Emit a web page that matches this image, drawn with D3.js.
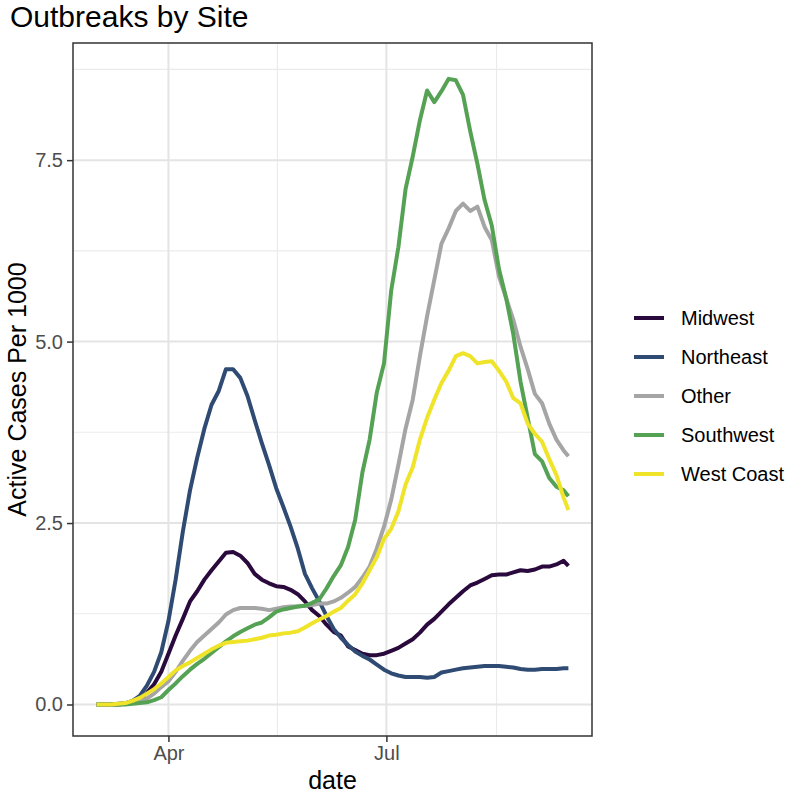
<!DOCTYPE html>
<html>
<head>
<meta charset="utf-8">
<script src="https://cdn.jsdelivr.net/npm/d3@7"></script>
<style>
  html, body { margin: 0; padding: 0; background: #ffffff; }
  svg { display: block; font-family: "Liberation Sans", Arial, Helvetica, sans-serif; }
</style>
</head>
<body>
<svg id="chart" width="788" height="795"></svg>
<script>
// ---- Data ----
const dates = [
  "2020-03-02","2020-03-05","2020-03-08","2020-03-11","2020-03-14","2020-03-17","2020-03-20","2020-03-23","2020-03-26","2020-03-29",
  "2020-04-01","2020-04-04","2020-04-07","2020-04-10","2020-04-13","2020-04-16","2020-04-19","2020-04-22","2020-04-25","2020-04-28",
  "2020-05-01","2020-05-04","2020-05-07","2020-05-10","2020-05-13","2020-05-16","2020-05-19","2020-05-22","2020-05-25","2020-05-28",
  "2020-05-31","2020-06-03","2020-06-06","2020-06-09","2020-06-12","2020-06-15","2020-06-18","2020-06-21","2020-06-24","2020-06-27",
  "2020-06-30","2020-07-03","2020-07-06","2020-07-09","2020-07-12","2020-07-15","2020-07-18","2020-07-21","2020-07-24","2020-07-27",
  "2020-07-30","2020-08-02","2020-08-05","2020-08-08","2020-08-11","2020-08-14","2020-08-17","2020-08-20","2020-08-23","2020-08-26",
  "2020-08-29","2020-09-01","2020-09-04","2020-09-07","2020-09-10","2020-09-13","2020-09-15"
];

const midwest = [
  0,0,0,0,0.01,0.03,0.07,0.16,0.28,0.45,
  0.70,0.95,1.18,1.42,1.56,1.72,1.85,1.97,2.09,2.10,
  2.05,1.95,1.80,1.72,1.67,1.63,1.62,1.58,1.52,1.42,
  1.30,1.22,1.10,1.00,0.95,0.80,0.75,0.70,0.68,0.68,
  0.70,0.74,0.78,0.84,0.90,0.99,1.10,1.18,1.28,1.38,
  1.47,1.56,1.64,1.68,1.73,1.78,1.79,1.79,1.82,1.85,
  1.84,1.86,1.90,1.90,1.93,1.98,1.91
];

const northeast = [
  0,0,0,0.01,0.02,0.05,0.12,0.26,0.45,0.72,
  1.15,1.72,2.38,2.95,3.40,3.80,4.13,4.32,4.62,4.62,
  4.50,4.25,3.92,3.60,3.30,2.98,2.72,2.45,2.15,1.80,
  1.60,1.42,1.22,1.04,0.92,0.82,0.73,0.67,0.62,0.55,
  0.48,0.43,0.40,0.38,0.38,0.38,0.37,0.38,0.44,0.46,
  0.48,0.50,0.51,0.52,0.53,0.53,0.53,0.52,0.51,0.49,
  0.48,0.48,0.49,0.49,0.49,0.50,0.50
];

const other = [
  0,0,0,0,0.01,0.02,0.04,0.08,0.15,0.24,
  0.32,0.45,0.60,0.74,0.86,0.95,1.04,1.13,1.24,1.30,
  1.33,1.33,1.33,1.32,1.30,1.32,1.34,1.35,1.35,1.36,
  1.37,1.39,1.39,1.42,1.47,1.54,1.62,1.75,1.90,2.15,
  2.45,2.82,3.30,3.80,4.20,4.80,5.35,5.85,6.35,6.56,
  6.80,6.90,6.80,6.86,6.58,6.40,5.90,5.60,5.30,4.93,
  4.62,4.28,4.15,3.87,3.65,3.50,3.42
];

const southwest = [
  0,0,0,0,0,0.01,0.02,0.03,0.06,0.10,
  0.20,0.29,0.39,0.48,0.56,0.63,0.71,0.79,0.87,0.94,
  1.00,1.05,1.10,1.13,1.20,1.28,1.31,1.33,1.35,1.36,
  1.40,1.45,1.60,1.77,1.92,2.17,2.55,3.20,3.65,4.30,
  4.70,5.70,6.30,7.10,7.55,8.05,8.46,8.30,8.45,8.62,
  8.60,8.40,7.90,7.45,6.95,6.60,6.00,5.60,5.10,4.45,
  3.95,3.45,3.35,3.12,3.00,2.95,2.87
];

const westCoast = [
  0,0,0,0.01,0.02,0.05,0.09,0.15,0.21,0.29,
  0.38,0.47,0.53,0.58,0.64,0.70,0.76,0.81,0.85,0.86,
  0.87,0.88,0.90,0.92,0.95,0.96,0.98,0.99,1.01,1.06,
  1.12,1.17,1.22,1.28,1.33,1.43,1.52,1.67,1.85,2.03,
  2.28,2.42,2.66,3.03,3.27,3.65,3.95,4.20,4.43,4.60,
  4.80,4.84,4.80,4.70,4.72,4.73,4.60,4.45,4.22,4.15,
  3.87,3.73,3.62,3.38,3.16,2.85,2.68
];

const seriesNames = ["Midwest","Northeast","Other","Southwest","West Coast"];
const seriesColors = ["#2a0a3c","#2f4b73","#a5a5a5","#55a255","#efe42a"];
const yTicks = [0, 2.5, 5.0, 7.5];
const yMinor = [1.25, 3.75, 6.25, 8.75];
const xTickDates = ["2020-04-01","2020-07-01"];
const xTickLabels = ["Apr","Jul"];
const xMinorDates = ["2020-05-16T12:00","2020-08-16"];

// ---- Layout ----
const svg = d3.select("#chart");
const panel = { left: 73, right: 592, top: 43, bottom: 736 };
const parse = d3.isoParse;
const dateObjs = dates.map(parse);
const allSeries = [midwest, northeast, other, southwest, westCoast];

const xExtent = d3.extent(dateObjs);
const xSpan = xExtent[1] - xExtent[0];
const x = d3.scaleTime()
  .domain([new Date(+xExtent[0] - xSpan * 0.05), new Date(+xExtent[1] + xSpan * 0.05)])
  .range([panel.left, panel.right]);

const yMaxDomain = 8.68;
const y = d3.scaleLinear()
  .domain([-yMaxDomain * 0.05, yMaxDomain * 1.05])
  .range([panel.bottom, panel.top]);

// Title
svg.append("text")
  .attr("x", 10).attr("y", 27)
  .attr("font-size", 30).attr("fill", "#000")
  .text("Outbreaks by Site");

// Panel background
svg.append("rect")
  .attr("x", panel.left).attr("y", panel.top)
  .attr("width", panel.right - panel.left).attr("height", panel.bottom - panel.top)
  .attr("fill", "#fff");

// minor grid
svg.append("g").selectAll("line").data(yMinor).join("line")
  .attr("x1", panel.left).attr("x2", panel.right)
  .attr("y1", d => y(d)).attr("y2", d => y(d))
  .attr("stroke", "#ebebeb").attr("stroke-width", 1.1);
svg.append("g").selectAll("line").data(xMinorDates.map(parse)).join("line")
  .attr("y1", panel.top).attr("y2", panel.bottom)
  .attr("x1", d => x(d)).attr("x2", d => x(d))
  .attr("stroke", "#ebebeb").attr("stroke-width", 1.1);
// major grid
svg.append("g").selectAll("line").data(yTicks).join("line")
  .attr("x1", panel.left).attr("x2", panel.right)
  .attr("y1", d => y(d)).attr("y2", d => y(d))
  .attr("stroke", "#e4e4e4").attr("stroke-width", 2);
svg.append("g").selectAll("line").data(xTickDates.map(parse)).join("line")
  .attr("y1", panel.top).attr("y2", panel.bottom)
  .attr("x1", d => x(d)).attr("x2", d => x(d))
  .attr("stroke", "#e4e4e4").attr("stroke-width", 2);

// Lines
const line = d3.line()
  .x((d, i) => x(dateObjs[i]))
  .y(d => y(d));

svg.append("g").selectAll("path").data(allSeries).join("path")
  .attr("d", d => line(d))
  .attr("fill", "none")
  .attr("stroke", (d, i) => seriesColors[i])
  .attr("stroke-width", 4)
  .attr("stroke-linejoin", "round")
  .attr("stroke-linecap", "butt");

// Panel border
svg.append("rect")
  .attr("x", panel.left).attr("y", panel.top)
  .attr("width", panel.right - panel.left).attr("height", panel.bottom - panel.top)
  .attr("fill", "none").attr("stroke", "#333333").attr("stroke-width", 1.5);

// Axes
const yAxis = d3.axisLeft(y).tickValues(yTicks).tickFormat(d3.format(".1f")).tickSize(6).tickPadding(4);
const gy = svg.append("g").attr("transform", `translate(${panel.left},0)`).call(yAxis);
gy.select(".domain").remove();
gy.selectAll(".tick line").attr("stroke", "#333333").attr("stroke-width", 1.5);
gy.selectAll(".tick text").attr("fill", "#4d4d4d").attr("font-size", 20)
  .attr("font-family", "Liberation Sans, Arial, sans-serif");

const xAxis = d3.axisBottom(x).tickValues(xTickDates.map(parse))
  .tickFormat((d, i) => xTickLabels[i]).tickSize(6).tickPadding(4);
const gx = svg.append("g").attr("transform", `translate(0,${panel.bottom})`).call(xAxis);
gx.select(".domain").remove();
gx.selectAll(".tick line").attr("stroke", "#333333").attr("stroke-width", 1.5);
gx.selectAll(".tick text").attr("fill", "#4d4d4d").attr("font-size", 20)
  .attr("font-family", "Liberation Sans, Arial, sans-serif");

// Axis titles
svg.append("text")
  .attr("x", (panel.left + panel.right) / 2).attr("y", 789)
  .attr("text-anchor", "middle").attr("font-size", 25).attr("fill", "#000")
  .text("date");
svg.append("text")
  .attr("transform", `translate(26,${(panel.top + panel.bottom) / 2}) rotate(-90)`)
  .attr("text-anchor", "middle").attr("font-size", 25).attr("fill", "#000")
  .text("Active Cases Per 1000");

// Legend
const legendY0 = 318, legendStep = 39;
const lg = svg.append("g");
seriesNames.forEach((name, i) => {
  const cy = legendY0 + i * legendStep;
  lg.append("line")
    .attr("x1", 634).attr("x2", 664).attr("y1", cy).attr("y2", cy)
    .attr("stroke", seriesColors[i]).attr("stroke-width", 4);
  lg.append("text")
    .attr("x", 681).attr("y", cy).attr("dy", "0.35em")
    .attr("font-size", 20).attr("fill", "#000")
    .text(name);
});
</script>
</body>
</html>
